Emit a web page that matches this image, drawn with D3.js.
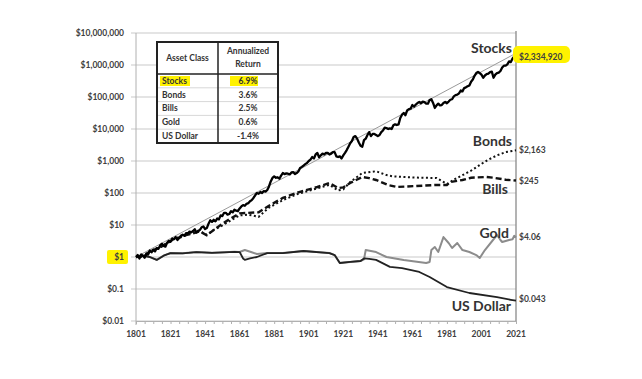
<!DOCTYPE html>
<html><head><meta charset="utf-8">
<script src="https://cdn.jsdelivr.net/npm/d3@7"></script>
<style>body{margin:0;background:#fff}svg{display:block}text{font-family:Lato,"Open Sans",sans-serif}</style>
</head><body>
<svg id="c" width="642" height="379"></svg>
<script>
const yTicks=[0.01,0.1,1,10,100,1000,10000,100000,1000000,10000000];
const yTickLabels=["$0.01","$0.1","$1","$10","$100","$1,000","$10,000","$100,000","$1,000,000","$10,000,000"];
const xTicks=[1801,1821,1841,1861,1881,1901,1921,1941,1961,1981,2001,2021];

const stockYears=d3.range(1801,2022);
const stockValues=[1,1.15,0.9,1.2,1.1,0.95,1.3,1.2,1.6,1.4,1.7,1.5,1.9,1.8,2.3,2.6,2.2,2.1,2.8,3.2,
3.0,3.8,3.6,4.2,3.4,3.9,4.6,5.0,4.6,5.6,5.4,6.2,5.9,6.5,7.4,5.8,6.6,7,8.5,9,
7.5,8,11,14,12.5,14.5,13,16,15,20,19,24,24,21,22,27,25,30,28,27,
33,38,42,40,46,48,55,60,70,85,100,95,108,100,115,110,124,160,230,295,
330,300,310,280,350,420,390,410,400,380,440,450,390,420,470,605,650,720,800,865,
1000,1100,1330,1200,1600,1780,1300,1500,1700,1600,1780,1800,1600,1700,1900,1900,1400,1330,1400,1200,
1500,1800,2200,2800,3600,4200,5600,6000,5000,3800,3000,2800,4500,5000,6500,8000,6000,7000,7000,6500,
6000,6500,8000,9000,11000,10700,10000,10500,10000,13000,14000,13300,14000,22000,28000,31600,27000,38000,42000,43000,
56000,50000,58000,65000,70000,64000,72000,69000,62000,62000,80000,85000,65000,45500,55000,62000,55000,56000,64700,70000,
64000,72000,82000,85000,105000,115000,118000,130000,160000,150000,190000,200000,215000,230000,300000,350000,460000,560000,606000,560000,
500000,400000,470000,520000,540000,600000,620000,400000,500000,560000,580000,650000,830000,950000,950000,1050000,1300000,1230000,1600000,1850000,
2334920];
const stocks=stockYears.map((yr,i)=>[yr,stockValues[i]]);
const bonds=[[1801,1],[1806,1.1],[1809,1.5],[1815,2.0],[1822,3.5],[1830,5],[1838,6.5],[1842,4.9],[1846,7],[1850,9],[1855,13],[1861,20],[1866,21],[1872,18],[1878,35],[1886,60],[1895,95],[1906,140],[1913,180],[1918,120],[1921,130],[1925,220],[1932,420],[1940,480],[1946,363],[1950,330],[1956,316],[1965,300],[1975,295],[1981,190],[1985,260],[1990,360],[1995,500],[2000,750],[2005,1100],[2010,1500],[2015,1900],[2021,2163]];
const bills=[[1801,1],[1806,1.05],[1809,1.5],[1815,2.0],[1822,3.4],[1830,4.8],[1838,6.3],[1842,4.8],[1846,7],[1850,10],[1855,15],[1861,23],[1866,24],[1872,25],[1878,40],[1886,70],[1895,105],[1906,154],[1913,205],[1918,143],[1921,150],[1925,205],[1932,316],[1936,293],[1940,255],[1947,178],[1952,154],[1963,165],[1974,178],[1981,178],[1983,220],[1990,255],[1995,300],[2004,316],[2008,300],[2015,260],[2021,245]];
const gold=[[1801,1],[1805,1.1],[1809,1.0],[1813,0.81],[1817,1.1],[1821,1.33],[1828,1.3],[1836,1.43],[1845,1.35],[1852,1.4],[1858,1.45],[1861,1.43],[1864,1.65],[1868,1.4],[1871,1.24],[1877,1.33],[1886,1.33],[1898,1.54],[1913,1.33],[1916,1.15],[1919,0.65],[1925,0.70],[1931,0.75],[1933,0.85],[1934,1.65],[1937,1.54],[1940,1.43],[1946,1.0],[1956,0.81],[1969,0.65],[1971,0.70],[1972,1.65],[1974,2.05],[1976,1.43],[1979,4.2],[1982,2.74],[1984,1.91],[1987,2.74],[1990,1.65],[1994,1.43],[1998,1.15],[2000,0.93],[2003,1.65],[2010,4.87],[2012,3.4],[2013,2.94],[2017,3.4],[2019,3.6],[2020,4.6],[2021,4.06]];
const dollar=[[1801,1],[1805,1.1],[1809,1.0],[1813,0.81],[1817,1.1],[1821,1.33],[1828,1.3],[1836,1.43],[1845,1.35],[1852,1.4],[1858,1.45],[1861,1.43],[1863,0.9],[1864,0.81],[1867,0.9],[1871,1.0],[1877,1.33],[1886,1.33],[1898,1.54],[1913,1.33],[1916,1.15],[1919,0.65],[1925,0.70],[1931,0.75],[1933,0.9],[1936,0.87],[1940,0.81],[1948,0.49],[1955,0.45],[1965,0.34],[1971,0.237],[1981,0.115],[1994,0.075],[2010,0.056],[2018,0.046],[2021,0.043]];
const trend=[[1801,1],[2021,2334920]];

const tableAssets=["Stocks","Bonds","Bills","Gold","US Dollar"];
const tableReturns=["6.9%","3.6%","2.5%","0.6%","-1.4%"];
const seriesNames=["Stocks","Bonds","Bills","Gold","US Dollar"];
const endLabels=["$2,334,920","$2,163","$245","$4.06","$0.043"];

const svg=d3.select("#c");
const L=136,R=516,T=33,B=321;
const x=d3.scaleLinear().domain([1801,2021]).range([L,R]);
const y=d3.scaleLog().domain([0.01,1e7]).range([B,T]);
const tc="#404040";

svg.append("g").selectAll("line").data(yTicks).join("line")
  .attr("x1",L-5).attr("x2",R).attr("y1",d=>y(d)).attr("y2",d=>y(d))
  .attr("stroke","#c9c9c9").attr("stroke-width",1);
svg.append("line").attr("x1",L).attr("x2",L).attr("y1",T).attr("y2",B+4).attr("stroke","#b0b0b0");
svg.append("line").attr("x1",R).attr("x2",R).attr("y1",T-2).attr("y2",B).attr("stroke","#8a8a8a").attr("stroke-width",1.3);
const xa=d3.axisBottom(x).tickValues(d3.range(1801,2022,5)).tickSize(3).tickFormat("");
const gx=svg.append("g").attr("transform",`translate(0,${B})`).call(xa);
gx.selectAll("line,path").attr("stroke","#b0b0b0");
svg.append("g").selectAll("text").data(xTicks).join("text")
  .attr("x",d=>x(d)).attr("y",337).attr("text-anchor","middle")
  .attr("font-size",8.5).attr("font-weight","bold").attr("fill",tc).text(d=>d);

svg.append("rect").attr("x",107).attr("y",y(1)-7).attr("width",21).attr("height",14).attr("rx",2).attr("fill","#fff200");
svg.append("g").selectAll("text").data(yTicks).join("text")
  .attr("x",124).attr("y",d=>y(d)).attr("dy","0.35em").attr("text-anchor","end")
  .attr("font-size",8.5).attr("font-weight","bold").attr("fill",tc).text((d,i)=>yTickLabels[i]);

const line=d3.line().x(d=>x(d[0])).y(d=>y(d[1]));
svg.append("path").datum(trend).attr("d",line).attr("fill","none").attr("stroke","#9a9a9a").attr("stroke-width",1);
svg.append("path").datum(gold).attr("d",line).attr("fill","none").attr("stroke","#8c8c8c").attr("stroke-width",2).attr("stroke-linejoin","round");
svg.append("path").datum(dollar).attr("d",line).attr("fill","none").attr("stroke","#222").attr("stroke-width",1.8).attr("stroke-linejoin","round");
svg.append("path").datum(bills).attr("d",line).attr("fill","none").attr("stroke","#111").attr("stroke-width",2.4).attr("stroke-dasharray","6,3");
svg.append("path").datum(bonds).attr("d",line).attr("fill","none").attr("stroke","#111").attr("stroke-width",2).attr("stroke-dasharray","2,2.5");
svg.append("path").datum(stocks).attr("d",line).attr("fill","none").attr("stroke","#000").attr("stroke-width",2.3).attr("stroke-linejoin","round");

const nameX=[512,512,508,509,511], nameY=[53,146,194,238,311];
const valY=[57,150,181.5,237,299];
svg.append("rect").attr("x",513).attr("y",46).attr("width",57).attr("height",17).attr("rx",5).attr("fill","#fff200");
svg.append("g").selectAll("text").data(seriesNames).join("text")
  .attr("x",(d,i)=>nameX[i]).attr("y",(d,i)=>nameY[i]).attr("text-anchor","end")
  .attr("font-size",14).attr("font-weight","bold").attr("fill","#333").text(d=>d);
svg.append("g").selectAll("text").data(endLabels).join("text")
  .attr("x",519).attr("y",(d,i)=>valY[i]).attr("dy","0.35em")
  .attr("font-size",8.5).attr("font-weight","bold").attr("fill",tc).text(d=>d);

const tx=157,ty=42,tw=121,th=101,cx=218,hy=74,rh=13.8;
const tg=svg.append("g");
tg.append("rect").attr("x",tx).attr("y",ty).attr("width",tw).attr("height",th).attr("fill","#fff");
tg.selectAll("line.r").data(d3.range(1,5)).join("line").attr("class","r")
  .attr("x1",tx).attr("x2",tx+tw).attr("y1",d=>hy+d*rh).attr("y2",d=>hy+d*rh).attr("stroke","#d8d8d8");
tg.append("rect").attr("x",160).attr("y",76).attr("width",30).attr("height",10).attr("fill","#fff200");
tg.append("rect").attr("x",230).attr("y",76).attr("width",28).attr("height",10).attr("fill","#fff200");
tg.append("line").attr("x1",cx).attr("x2",cx).attr("y1",ty).attr("y2",ty+th).attr("stroke","#222").attr("stroke-width",1.5);
tg.append("line").attr("x1",tx).attr("x2",tx+tw).attr("y1",hy).attr("y2",hy).attr("stroke","#222").attr("stroke-width",1.5);
tg.append("rect").attr("x",tx).attr("y",ty).attr("width",tw).attr("height",th).attr("fill","none").attr("stroke","#222").attr("stroke-width",2);
tg.append("text").attr("x",(tx+cx)/2).attr("y",58).attr("dy","0.35em").attr("text-anchor","middle").attr("font-size",8.5).attr("font-weight","bold").attr("fill","#333").text("Asset Class");
tg.append("text").attr("x",(cx+tx+tw)/2).attr("y",51).attr("dy","0.35em").attr("text-anchor","middle").attr("font-size",8.5).attr("font-weight","bold").attr("fill","#333").text("Annualized");
tg.append("text").attr("x",(cx+tx+tw)/2).attr("y",64).attr("dy","0.35em").attr("text-anchor","middle").attr("font-size",8.5).attr("font-weight","bold").attr("fill","#333").text("Return");
tg.selectAll("text.a").data(tableAssets).join("text").attr("class","a")
  .attr("x",162).attr("y",(d,i)=>hy+rh*(i+0.5)).attr("dy","0.35em").attr("font-size",8.5).attr("font-weight","bold").attr("fill","#333").text(d=>d);
tg.selectAll("text.v").data(tableReturns).join("text").attr("class","v")
  .attr("x",(cx+tx+tw)/2).attr("y",(d,i)=>hy+rh*(i+0.5)).attr("dy","0.35em").attr("text-anchor","middle").attr("font-size",8.5).attr("font-weight","bold").attr("fill","#333").text(d=>d);
</script>
</body></html>
